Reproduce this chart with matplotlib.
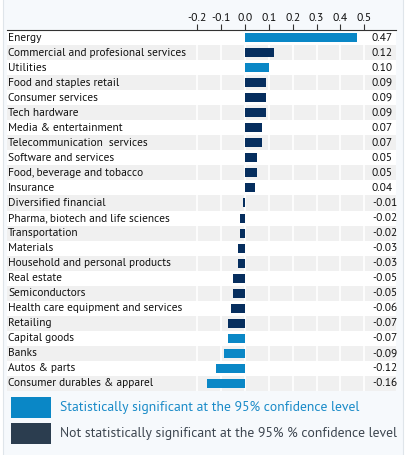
import numpy as np
import matplotlib.pyplot as plt
from matplotlib.patches import Rectangle
import matplotlib.transforms as mtransforms

plt.rcParams['font.family'] = ['PT Sans', 'Fira Sans', 'Lato', 'DejaVu Sans']

# sectors, top to bottom
sectors = ["Energy", "Commercial and profesional services", "Utilities",
           "Food and staples retail", "Consumer services", "Tech hardware",
           "Media & entertainment", "Telecommunication  services",
           "Software and services", "Food, beverage and tobacco", "Insurance",
           "Diversified financial", "Pharma, biotech and life sciences",
           "Transportation", "Materials", "Household and personal products",
           "Real estate", "Semiconductors", "Health care equipment and services",
           "Retailing", "Capital goods", "Banks", "Autos & parts",
           "Consumer durables & apparel"]
values = [0.47, 0.12, 0.10, 0.09, 0.09, 0.09, 0.07, 0.07, 0.05, 0.05, 0.04,
          -0.01, -0.02, -0.02, -0.03, -0.03, -0.05, -0.05, -0.06, -0.07,
          -0.07, -0.09, -0.12, -0.16]
# 1 = statistically significant at 95%
significant = [1, 0, 1, 0, 0, 0, 0, 0, 0, 0, 0,
               0, 0, 0, 0, 0, 0, 0, 0, 0,
               1, 1, 1, 1]
xticks = [-0.2, -0.1, 0.0, 0.1, 0.2, 0.3, 0.4, 0.5]
legend_labels = ["Statistically significant at the 95% confidence level",
                 "Not statistically significant at the 95% % confidence level"]

BLUE = '#0a87c6'
NAVY = '#062e5e'
W, H = 409, 455

fig = plt.figure(figsize=(W / 100, H / 100), dpi=100, facecolor='white')
# panel background with thin border
fig.patches.append(Rectangle((2.5 / W, -0.01), 401 / W, 1.02, transform=fig.transFigure,
                             facecolor='#f6f9fc', edgecolor='#dfe5ea', lw=0.8, zorder=-1))

ax = fig.add_axes([7 / W, 1 - 391 / H, 389 / W, 361 / H])
ax.set_facecolor('white')
scale = 238.7  # pixels per unit
ax.set_xlim((7 - 245) / scale, (396 - 245) / scale)
n = len(sectors)
y = np.arange(n)
ax.set_ylim(n - 0.5, -0.5)

for i in y:
    if i % 2 == 1:
        ax.axhspan(i - 0.5, i + 0.5, color='#f0f0f0', lw=0, zorder=0)
for t in xticks:
    ax.axvline(t, color='white', lw=1.2, zorder=1)

colors = [BLUE if s else NAVY for s in significant]
ax.barh(y, values, height=0.6, color=colors, zorder=2)

trans = mtransforms.blended_transform_factory(ax.transAxes, ax.transData)
for i, (name, v) in enumerate(zip(sectors, values)):
    ax.text(0.003, i, name, transform=trans, ha='left', va='center',
            fontsize=8.2, color='#111111')
    ax.text(0.532, i, '%.2f' % v, ha='left', va='center', fontsize=8.2,
            color='#111111')

ax.xaxis.tick_top()
ax.set_xticks(xticks)
ax.set_xticklabels(['%.1f' % t for t in xticks], fontsize=8.4, color='#111111')
ax.tick_params(axis='x', direction='out', length=4, width=0.8, color='#333333', pad=1)
ax.set_yticks([])
for s in ['left', 'right', 'bottom']:
    ax.spines[s].set_visible(False)
ax.spines['top'].set_color('#333333')
ax.spines['top'].set_linewidth(0.8)

# legend
leg_colors = [BLUE, '#2b3d4f']
leg_text_colors = ['#1a8bc8', '#3d4650']
for k, (lab, c, tc) in enumerate(zip(legend_labels, leg_colors, leg_text_colors)):
    top = 397 + k * 26
    fig.patches.append(Rectangle((11 / W, 1 - (top + 21) / H), 40 / W, 21 / H,
                                 transform=fig.transFigure, facecolor=c, lw=0))
    fig.text(60 / W, 1 - (top + 10.5) / H, lab, ha='left', va='center',
             fontsize=9.9, color=tc)

fig.savefig('out.png', dpi=100, facecolor=fig.get_facecolor())
